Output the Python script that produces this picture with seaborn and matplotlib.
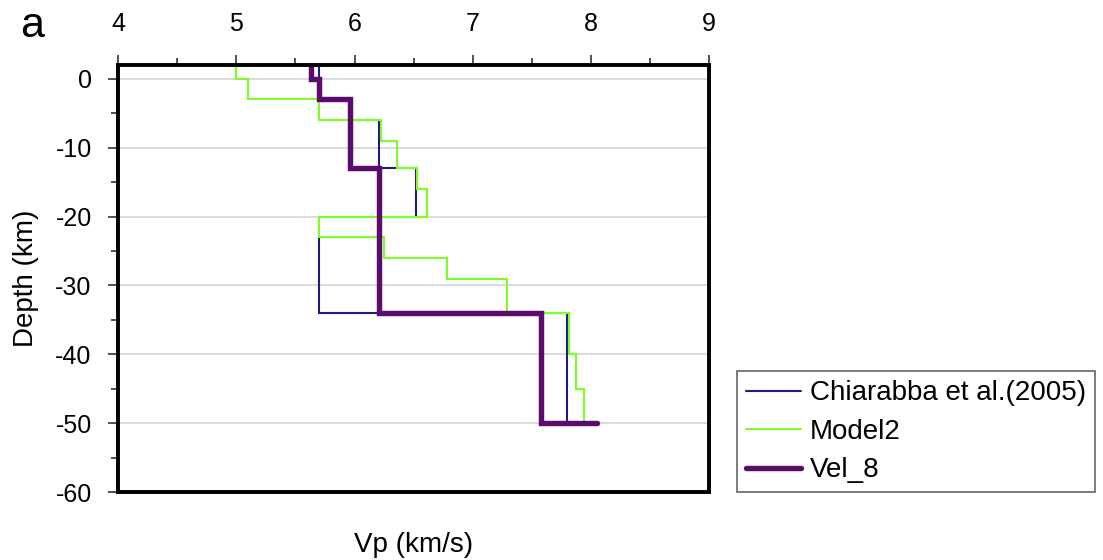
import pandas as pd
import seaborn as sns
import matplotlib.pyplot as plt
from matplotlib.ticker import MultipleLocator

# layer boundaries (km, negative = down) and Vp of each layer (km/s)
chiar_depth = [2, -3, -6, -13, -20, -23, -34, -50]
chiar_vp = [5.70, 5.96, 6.21, 6.52, 6.21, 5.70, 7.80]

model2_depth = [2, 0, -3, -6, -9, -13, -16, -20, -23, -26, -29, -34, -40, -45, -50]
model2_vp = [5.00, 5.10, 5.70, 6.22, 6.36, 6.53, 6.61, 5.70, 6.25, 6.78, 7.29,
             7.81, 7.87, 7.94]

vel8_depth = [2, 0, -3, -13, -34, -50]
vel8_vp = [5.63, 5.70, 5.96, 6.21, 7.58]
vel8_halfspace = 8.05

labels = ["Chiarabba et al.(2005)", "Model2", "Vel_8"]
colors = ["#1c1c84", "#7dff26", "#5b0b6e"]
widths = [1.5, 1.5, 3.9]

x_ticks = [4, 5, 6, 7, 8, 9]
y_ticks = [0, -10, -20, -30, -40, -50, -60]


def staircase(depth, vp, half=None):
    """build the step profile of a layered model"""
    xs, ys = [], []
    for i, v in enumerate(vp):
        xs += [v, v]
        ys += [depth[i], depth[i + 1]]
    if half is not None:
        xs.append(half)
        ys.append(depth[-1])
    return pd.DataFrame({"vp": xs, "depth": ys})


profiles = [staircase(chiar_depth, chiar_vp),
            staircase(model2_depth, model2_vp),
            staircase(vel8_depth, vel8_vp, vel8_halfspace)]

sns.set_style("white")
plt.rcParams["font.family"] = ["Liberation Sans", "DejaVu Sans"]
plt.rcParams["text.color"] = "black"
plt.rcParams["xtick.color"] = "black"
plt.rcParams["ytick.color"] = "black"
plt.rcParams["axes.labelcolor"] = "black"

fig = plt.figure(figsize=(11.03, 5.6), dpi=100)
ax = fig.add_axes([0.107, 0.1214, 0.536, 0.7625])

for df, lab, col, lw in zip(profiles, labels, colors, widths):
    sns.lineplot(data=df, x="vp", y="depth", sort=False, estimator=None,
                 color=col, linewidth=lw, label=lab, ax=ax,
                 solid_joinstyle="miter")

ax.set_xlim(4, 9)
ax.set_ylim(-60, 2)
ax.xaxis.tick_top()
ax.set_xticks(x_ticks)
ax.set_xticklabels([str(t) for t in x_ticks])
ax.xaxis.set_minor_locator(MultipleLocator(0.5))
ax.set_yticks(y_ticks)
ax.set_yticklabels([str(t) for t in y_ticks])
ax.yaxis.set_minor_locator(MultipleLocator(5))
ax.tick_params(axis="both", which="both", direction="out", color="#333333",
               width=1.2, labelsize=18)
ax.tick_params(axis="both", which="major", length=7)
ax.tick_params(axis="both", which="minor", length=5)
ax.tick_params(axis="x", which="both", top=True, bottom=False, pad=14)
ax.tick_params(axis="y", which="both", left=True, pad=12)
ax.grid(axis="y", which="major", color="#dadada", linewidth=1.4)
ax.set_axisbelow(True)
for s in ax.spines.values():
    s.set_color("black")
    s.set_linewidth(2.8)

ax.set_xlabel("")
ax.set_ylabel("Depth (km)", fontsize=20, labelpad=12)
fig.text(0.3745, 0.004, "Vp (km/s)", ha="center", va="bottom", fontsize=20)
fig.text(0.018, 0.934, "a", fontsize=31, ha="left", va="baseline")

ax.legend(loc="lower left", bbox_to_anchor=(0.668, 0.121),
          bbox_transform=fig.transFigure, borderaxespad=0, fontsize=20,
          frameon=True, fancybox=False, edgecolor="#666666",
          handlelength=2.0, handletextpad=0.3, labelspacing=0.45,
          borderpad=0.32, framealpha=1)
ax.get_legend().get_frame().set_linewidth(1.2)

fig.savefig("out.png", dpi=100)
